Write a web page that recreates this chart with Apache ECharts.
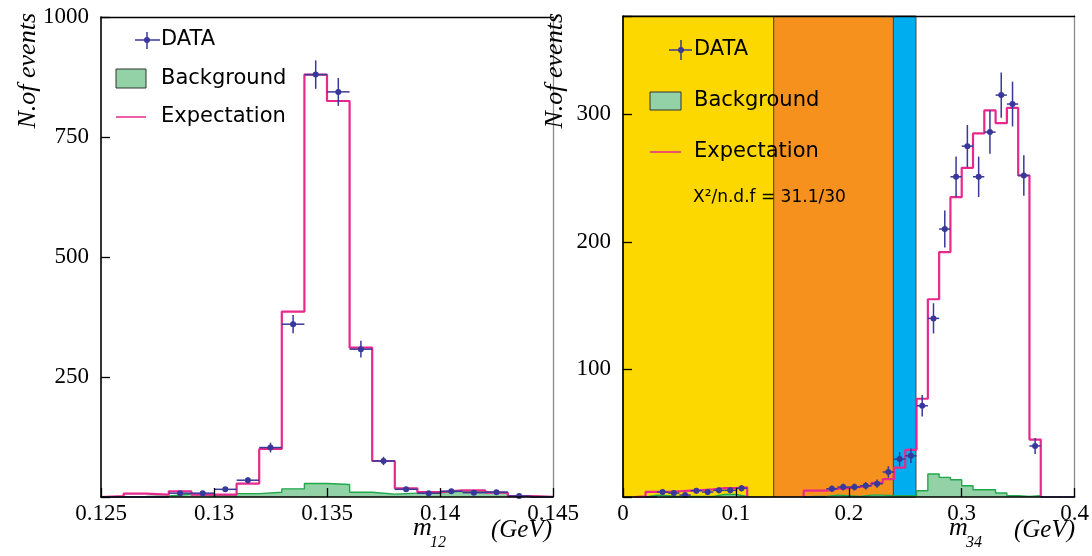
<!DOCTYPE html>
<html><head><meta charset="utf-8">
<script src="https://cdn.jsdelivr.net/npm/echarts@6/dist/echarts.min.js"></script>
<style>html,body{margin:0;padding:0;background:#fff}#c{width:1092px;height:556px}</style>
</head><body><div id="c"></div>
<script>
// ---------- DATA ----------
const leftEdges = [0.125,0.126,0.127,0.128,0.129,0.130,0.131,0.132,0.133,0.134,0.135,0.136,0.137,0.138,0.139,0.140,0.141,0.142,0.143,0.144,0.145];
const leftData        = [0,0,0,8,8,16,35,103,360,880,844,308,75,16,8,12,9,10,2,0];
const leftExpectation = [2,7,5,12,5,5,28,100,386,880,825,311,75,18,10,14,14,9,2,0.5];
const leftBackground  = [0.5,1,2,6,3,2,7,10,17,28,26,10,6,8,9,12,11,9,2,0];
const leftXTicks = ['0.125','0.13','0.135','0.14','0.145'];
const leftYTicks = ['250','500','750','1000'];

const rightEdges = [0,0.01,0.02,0.03,0.04,0.05,0.06,0.07,0.08,0.09,0.10,0.11,0.12,0.13,0.14,0.15,0.16,0.17,0.18,0.19,0.20,
                    0.21,0.22,0.23,0.24,0.25,0.26,0.27,0.28,0.29,0.30,0.31,0.32,0.33,0.34,0.35,0.36,0.37,0.38,0.39,0.40];
const rightData        = [null,null,0,3.9,3.1,1.5,4.9,3.9,5.2,5.2,6.8,null,null,null,null,null,0,0,6.5,7.8,
                          7.8,8.8,10.4,19.6,29.7,32.3,71.5,140,210,251,275,251,286,315,308,252,40,0,0,0];
const rightExpectation = [null,0.5,4,4,4.5,5,5.5,6,7,7,7.5,null,null,null,null,null,5,5,6.5,7,
                          8,9,11,14,23,37,77,155,192,235,258,285,303,293,305,252,45,null,null,null];
const rightBackground  = [null,null,1.5,1,0.5,0.5,0.5,0.5,2,2,0.5,null,null,null,null,null,0.5,0.5,1.5,1,
                          0.5,1.5,1.5,1,1,1,4.9,18,15.4,13.5,8.8,5.7,5.7,3.1,1,0.5,1,null,null,null];
const rightXTicks = ['0','0.1','0.2','0.3','0.4'];
const rightYTicks = ['100','200','300'];
const bandRanges = [[0,0.1335],[0.1335,0.2395],[0.2395,0.2595]];
const chiText = 'X\u00b2/n.d.f = 31.1/30';

// ---------- STYLE ----------
const BAND_COLORS = ['#FDD800','#F6911E','#00AEEF'];
const PINK = '#E8288C', GFILL = '#92D2A6', GLINE = '#22A84C', BLUE = '#38389A';
const SERIF = 'Liberation Serif', SANS = 'DejaVu Sans';

function runs(edges, vals){
  const out=[]; let cur=null;
  for(let i=0;i<vals.length;i++){
    const v=vals[i];
    if(v===null){ if(cur){cur.push([edges[i],0]); out.push(cur); cur=null;} continue; }
    if(!cur) cur=[[edges[i],0]];
    cur.push([edges[i],v],[edges[i+1],v]);
  }
  if(cur){ cur.push([edges[vals.length],0]); out.push(cur); }
  return out;
}
function points(edges, vals){
  const out=[];
  vals.forEach((v,i)=>{ if(v===null) return; out.push([(edges[i]+edges[i+1])/2, v, Math.sqrt(v), edges[i], edges[i+1]]); });
  return out;
}
function lab(list){ return v => { const t = list.find(s => Math.abs(Number(s)-v) < 1e-9); return t === undefined ? '' : t; }; }

function mainX(g, min, max, interval, labels){
  return {type:'value', gridIndex:g, min, max, interval, z:10, position:'bottom',
    axisLine:{show:true,onZero:false,lineStyle:{color:'#000',width:1.6}},
    axisTick:{show:true,inside:true,length:9,lineStyle:{color:'#000',width:1.3}},
    axisLabel:{show:true,margin:5,color:'#000',fontFamily:SERIF,fontSize:23,formatter:lab(labels),hideOverlap:false,showMinLabel:true,showMaxLabel:true},
    splitLine:{show:false}};
}
function mainY(g, min, max, interval, labels){
  return {type:'value', gridIndex:g, min, max, interval, z:10, position:'left',
    axisLine:{show:true,onZero:false,lineStyle:{color:'#000',width:1.6}},
    axisTick:{show:true,inside:true,length:9,lineStyle:{color:'#000',width:1.3}},
    axisLabel:{show:true,margin:12,color:'#000',fontFamily:SERIF,fontSize:23,formatter:lab(labels),hideOverlap:false},
    splitLine:{show:false}};
}
function frameAxis(g, pos, color){
  return {type:'value', gridIndex:g, position:pos, z:10, min:0, max:1,
    axisLine:{show:true,onZero:false,lineStyle:{color,width:1.3}},
    axisTick:{show:false}, axisLabel:{show:false}, splitLine:{show:false}};
}

const series = [];
series.push({type:'custom', xAxisIndex:2, yAxisIndex:2, z:1, silent:true, data: bandRanges.map((r,i)=>[r[0],r[1],i]),
  renderItem:(params, api)=>{
    const p0 = api.coord([api.value(0),0]), p1 = api.coord([api.value(1),0]);
    const cs = params.coordSys;
    return {type:'rect', shape:{x:p0[0], y:cs.y, width:p1[0]-p0[0], height:cs.height},
      style:{fill:BAND_COLORS[api.value(2)], stroke:'#4a4a4a', lineWidth:1}};
  }});

function addHist(xi, yi, edges, bkg, exp, dat){
  runs(edges, bkg).forEach(r => series.push({type:'line', xAxisIndex:xi, yAxisIndex:yi, data:r, symbol:'none', z:2, silent:true,
    lineStyle:{color:GLINE,width:1.4}, areaStyle:{color:GFILL,opacity:1}}));
  runs(edges, exp).forEach(r => series.push({type:'line', xAxisIndex:xi, yAxisIndex:yi, data:r, symbol:'none', z:3, silent:true,
    lineStyle:{color:PINK,width:2.2}}));
  series.push({type:'custom', xAxisIndex:xi, yAxisIndex:yi, z:4, silent:true, data:points(edges, dat),
    renderItem:(params, api)=>{
      const x=api.value(0), y=api.value(1), e=api.value(2), x0=api.value(3), x1=api.value(4);
      const pl=api.coord([x0,y]), pr=api.coord([x1,y]), pt=api.coord([x,y+e]), pb=api.coord([x,Math.max(y-e,0)]), c=api.coord([x,y]);
      const st={stroke:BLUE,lineWidth:1.5};
      const ch=[{type:'line',shape:{x1:pl[0],y1:pl[1],x2:pr[0],y2:pr[1]},style:st}];
      if(y>0){
        ch.push({type:'line',shape:{x1:pt[0],y1:pt[1],x2:pb[0],y2:pb[1]},style:st});
        ch.push({type:'circle',shape:{cx:c[0],cy:c[1],r:3},style:{fill:BLUE}});
      }
      return {type:'group',children:ch};
    }});
}
addHist(0,0,leftEdges,leftBackground,leftExpectation,leftData);
addHist(2,2,rightEdges,rightBackground,rightExpectation,rightData);

function txt(x,y,text,size,opts){
  return Object.assign({type:'text', x, y, z:100, style:Object.assign({text, fill:'#000', fontFamily:SANS, fontSize:size, align:'left', verticalAlign:'middle'}, opts||{})});
}
function line(x1,y1,x2,y2,stroke,w){ return {type:'line', z:100, shape:{x1,y1,x2,y2}, style:{stroke,lineWidth:w}}; }

const graphic = [
  // left legend
  line(135,40,160,40,BLUE,1.5), line(147,32,147,49,BLUE,1.5), {type:'circle',z:100,shape:{cx:147,cy:40,r:3},style:{fill:BLUE}},
  txt(161,40,'DATA',21),
  {type:'rect',z:100,shape:{x:116,y:69,width:30,height:19},style:{fill:GFILL,stroke:'#333',lineWidth:1}},
  txt(161,79,'Background',21),
  line(116,117,146,117,PINK,1.5),
  txt(161,117,'Expectation',21),
  // right legend
  line(669,50,692,50,BLUE,1.5), line(681,40,681,60,BLUE,1.5), {type:'circle',z:100,shape:{cx:681,cy:50,r:3},style:{fill:BLUE}},
  txt(694,50,'DATA',21),
  {type:'rect',z:100,shape:{x:650,y:92,width:31,height:18},style:{fill:GFILL,stroke:'#333',lineWidth:1}},
  txt(694,101,'Background',21),
  line(650,152,681,152,PINK,1.5),
  txt(694,152,'Expectation',21),
  txt(693,197.5,chiText,17),
  // y titles
  {type:'text', x:28, y:13, rotation:Math.PI/2, z:100, style:{text:'N.of events', fill:'#000', fontFamily:SERIF, fontStyle:'italic', fontSize:26, align:'right', verticalAlign:'middle'}},
  {type:'text', x:555, y:13, rotation:Math.PI/2, z:100, style:{text:'N.of events', fill:'#000', fontFamily:SERIF, fontStyle:'italic', fontSize:26, align:'right', verticalAlign:'middle'}},
  // x titles
  txt(413,528,'m',26,{fontFamily:SERIF,fontStyle:'italic'}),
  txt(430,543,'12',16,{fontFamily:SERIF,fontStyle:'italic'}),
  txt(552,530,'(GeV)',25,{fontFamily:SERIF,fontStyle:'italic',align:'right'}),
  txt(949,528,'m',26,{fontFamily:SERIF,fontStyle:'italic'}),
  txt(966,543,'34',16,{fontFamily:SERIF,fontStyle:'italic'}),
  txt(1075,530,'(GeV)',25,{fontFamily:SERIF,fontStyle:'italic',align:'right'})
];

const option = {
  animation:false,
  backgroundColor:'#fff',
  grid:[{left:101,top:17,width:452,height:480,show:false},{left:623,top:16,width:453,height:481,show:false}],
  xAxis:[mainX(0,0.125,0.145,0.005,leftXTicks), frameAxis(0,'top','#000'), mainX(1,0,0.4,0.1,rightXTicks), frameAxis(1,'top','#000')],
  yAxis:[mainY(0,0,1000,250,leftYTicks), frameAxis(0,'right','#8a8a8a'), mainY(1,0,377,100,rightYTicks), frameAxis(1,'right','#8a8a8a')],
  series,
  graphic
};
const chart = echarts.init(document.getElementById('c'), null, {renderer:'canvas', width:1092, height:556});
chart.setOption(option);
</script>
</body></html>
